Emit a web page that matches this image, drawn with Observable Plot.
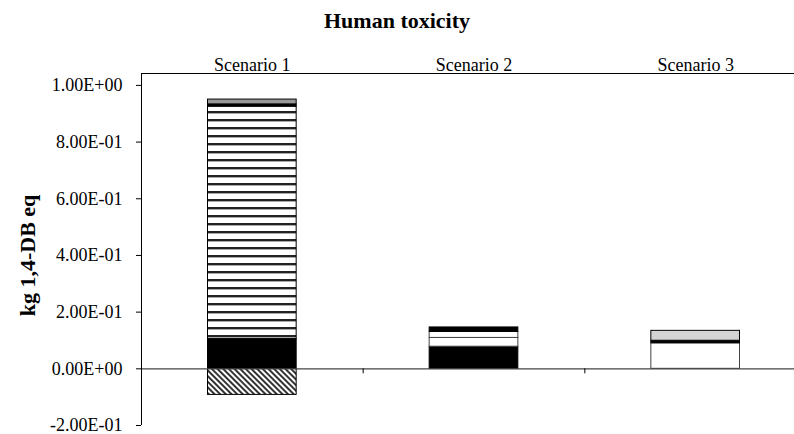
<!DOCTYPE html>
<html>
<head>
<meta charset="utf-8">
<script src="https://cdn.jsdelivr.net/npm/d3@7"></script>
<script src="https://cdn.jsdelivr.net/npm/@observablehq/plot@0.6"></script>
<style>
  body { margin: 0; background: #fff; }
  #title { height: 34px; width: 794px; text-align: center; font-family: "Liberation Serif", serif; font-weight: bold; font-size: 22px; line-height: 22px; padding-top: 10px; box-sizing: border-box; color: #000; }
  #chart svg { font-family: "Liberation Serif", serif !important; font-size: 18px !important; }
  #chart svg text { font-family: "Liberation Serif", serif !important; }
</style>
</head>
<body>
<div id="title">Human toxicity</div>
<div id="chart"></div>
<script>
// ---- data ----
const scenarios = ["Scenario 1", "Scenario 2", "Scenario 3"];
const seriesNames = ["Series A", "Series B", "Series C", "Series D", "Series E", "Series F", "Series G", "Series H"];
const seriesA = [-0.092, 0, 0];      // diagonal hatch (negative)
const seriesB = [0.105, 0.078, 0];   // black
const seriesC = [0.820, 0, 0];       // horizontal stripes
const seriesD = [0, 0.031, 0.090];   // white
const seriesE = [0, 0.021, 0];       // white
const seriesF = [0.008, 0.016, 0.009]; // black
const seriesG = [0.017, 0, 0];       // dark grey
const seriesH = [0, 0, 0.035];       // light grey
const seriesValues = [seriesA, seriesB, seriesC, seriesD, seriesE, seriesF, seriesG, seriesH];
const yTicks = [-0.2, 0, 0.2, 0.4, 0.6, 0.8, 1.0];
const yMin = -0.2, yMax = 1.042;
const boundaries = [1, 2];
const yTitle = "kg 1,4-DB eq";
const yTitleAt = 0.4;

// ---- styles ----
const seriesFills = ["url(#diag)", "#000000", "url(#hstripe)", "#ffffff", "#ffffff", "#000000", "#999999", "#d4d4d4"];
const seriesStrokes = ["#000", "#000", "#000", "#444", "#444", "#000", "#000", "#000"];

const rows = [];
seriesNames.forEach((s, k) => {
  scenarios.forEach((sc, i) => {
    const v = seriesValues[k][i];
    if (v !== 0) rows.push({idx: i, scenario: sc, series: s, value: v, stroke: seriesStrokes[k]});
  });
});

function sci(v) {
  if (Math.abs(v) < 1e-12) return "0.00E+00";
  const e = Math.floor(Math.log10(Math.abs(v)) + 1e-9);
  const m = v / Math.pow(10, e);
  return m.toFixed(2) + "E" + (e < 0 ? "-" : "+") + String(Math.abs(e)).padStart(2, "0");
}

const chart = Plot.plot({
  width: 794,
  height: 400,
  marginLeft: 141,
  marginRight: 0,
  marginTop: 39,
  marginBottom: 9,
  style: {fontFamily: "Liberation Serif, serif", fontSize: "18px", color: "#000", background: "#fff"},
  x: {domain: [0, 3], range: [141, 806], axis: null},
  y: {domain: [yMin, yMax], ticks: yTicks, tickFormat: sci, tickSize: 5, tickPadding: 14, label: null},
  color: {domain: seriesNames, range: seriesFills},
  marks: [
    Plot.rectY(rows, {
      x1: d => d.idx + 0.3,
      x2: d => d.idx + 0.7,
      y: "value",
      fill: "series",
      stroke: d => d.stroke,
      strokeWidth: 1
    }),
    Plot.ruleY([0], {stroke: "#444", strokeWidth: 1.2}),
    Plot.ruleY([yMax], {stroke: "#000", strokeWidth: 1}),
    Plot.ruleX([0], {y1: yMin, y2: yMax, stroke: "#000", strokeWidth: 1}),
    Plot.ruleX(boundaries, {y1: 0, y2: 0, insetBottom: -5, stroke: "#000"}),
    Plot.text(scenarios, {x: (d, i) => i + 0.5, frameAnchor: "top", dy: -15, fontSize: 18, fill: "#000"}),
    Plot.text([yTitle], {y: () => yTitleAt, frameAnchor: "left", textAnchor: "middle", dx: -114, rotate: -90, fontSize: 22, fontWeight: "bold", fill: "#000"})
  ]
});

// patterns
const svg = d3.select(chart.tagName.toLowerCase() === "svg" ? chart : chart.querySelector("svg"));
const defs = svg.insert("defs", ":first-child");
const diag = defs.append("pattern").attr("id", "diag").attr("patternUnits", "userSpaceOnUse")
  .attr("width", 4).attr("height", 4).attr("patternTransform", "rotate(-45)");
diag.append("rect").attr("width", 4).attr("height", 4).attr("fill", "#fff");
diag.append("rect").attr("width", 2).attr("height", 4).attr("fill", "#333");
const hs = defs.append("pattern").attr("id", "hstripe").attr("patternUnits", "userSpaceOnUse")
  .attr("width", 8).attr("height", 8);
hs.append("rect").attr("width", 8).attr("height", 8).attr("fill", "#fff");
hs.append("rect").attr("y", 5).attr("width", 8).attr("height", 2).attr("fill", "#222");
hs.append("rect").attr("y", 7).attr("width", 8).attr("height", 1).attr("fill", "#aaa");

document.getElementById("chart").appendChild(chart);
</script>
</body>
</html>
